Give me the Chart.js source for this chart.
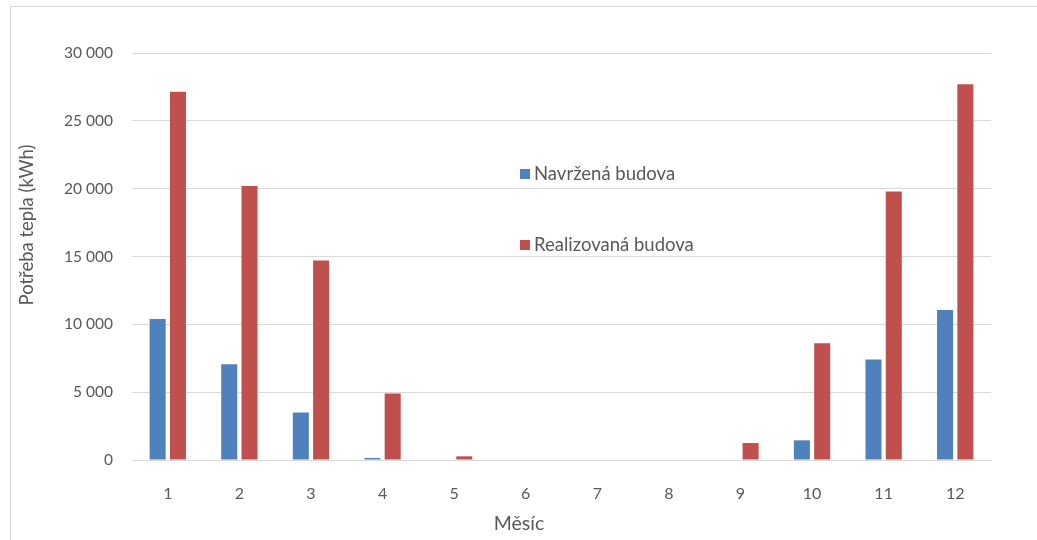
<!DOCTYPE html>
<html>
<head>
<meta charset="utf-8">
<script src="https://cdn.jsdelivr.net/npm/chart.js@4.4.1/dist/chart.umd.min.js"></script>
<style>
  html, body { margin: 0; padding: 0; background: #ffffff; }
  #wrap { position: relative; width: 1037px; height: 540px; }
</style>
</head>
<body>
<div id="wrap"><canvas id="c" width="1037" height="540"></canvas></div>
<script>
// Monthly heat demand (kWh)
const months = ['1', '2', '3', '4', '5', '6', '7', '8', '9', '10', '11', '12'];
const navrzenaBudova = [10400, 7050, 3500, 150, 0, 0, 0, 0, 0, 1450, 7400, 11050];
const realizovanaBudova = [27150, 20200, 14700, 4900, 270, 0, 0, 0, 1250, 8600, 19800, 27700];
const yTickValues = [0, 5000, 10000, 15000, 20000, 25000, 30000];

const seriesNames = ['Navržená budova', 'Realizovaná budova'];
const yTitle = 'Potřeba tepla (kWh)';
const xTitle = 'Měsíc';

const FONT = 'Lato, "Open Sans", sans-serif';
const TEXT = '#595959';
const GRID = '#d9d9d9';

function fmt(v) {
  return String(v).replace(/\B(?=(\d{3})+(?!\d))/g, ' ');
}

// outer frame of the chart object
const framePlugin = {
  id: 'frame',
  beforeDraw(chart) {
    const ctx = chart.ctx;
    ctx.save();
    ctx.strokeStyle = GRID;
    ctx.lineWidth = 1;
    ctx.strokeRect(10.5, 6.5, chart.width + 20, chart.height + 20);
    ctx.restore();
  }
};

// axis titles and the in-plot legend
const labelsPlugin = {
  id: 'labels',
  afterDraw(chart) {
    const ctx = chart.ctx;
    const area = chart.chartArea;
    ctx.save();
    ctx.fillStyle = TEXT;
    ctx.textAlign = 'center';
    ctx.textBaseline = 'middle';
    // y title
    ctx.font = '18.5px ' + FONT;
    ctx.save();
    ctx.translate(27, 225);
    ctx.rotate(-Math.PI / 2);
    ctx.fillText(yTitle, 0, 0);
    ctx.restore();
    // x title
    ctx.font = '19.5px ' + FONT;
    ctx.fillText(xTitle, 519, 524);

    // legend
    ctx.font = '18.5px ' + FONT;
    const items = chart.data.datasets;
    const legendX = area.left + 388;
    const legendY = [174, 245];
    ctx.textAlign = 'left';
    items.forEach((ds, i) => {
      ctx.fillStyle = ds.backgroundColor;
      ctx.fillRect(legendX, legendY[i] - 5, 10, 10);
      ctx.fillStyle = TEXT;
      ctx.fillText(ds.label, legendX + 14, legendY[i]);
    });
    ctx.restore();
  }
};

new Chart(document.getElementById('c'), {
  type: 'bar',
  data: {
    labels: months,
    datasets: [
      { label: seriesNames[0], data: navrzenaBudova, backgroundColor: '#4f81bd' },
      { label: seriesNames[1], data: realizovanaBudova, backgroundColor: '#c0504d' }
    ]
  },
  options: {
    responsive: false,
    animation: false,
    devicePixelRatio: 1,
    categoryPercentage: 0.567,
    barPercentage: 0.79,
    layout: { padding: { top: 53, right: 46, left: 0, bottom: 0 } },
    plugins: {
      legend: { display: false },
      tooltip: { enabled: false }
    },
    scales: {
      x: {
        grid: { display: false },
        border: { display: true, color: GRID, width: 1 },
        ticks: { color: TEXT, font: { family: FONT, size: 16 }, padding: 16 },
        afterFit(s) { s.height = 80; }
      },
      y: {
        min: 0,
        max: 30000,
        afterBuildTicks(s) { s.ticks = yTickValues.map(v => ({ value: v })); },
        grid: { color: GRID, lineWidth: 1, drawTicks: false },
        border: { display: false },
        ticks: {
          color: TEXT,
          font: { family: FONT, size: 15.5 },
          padding: 19,
          callback: v => fmt(v)
        },
        afterFit(s) { s.width = 132; }
      }
    }
  },
  plugins: [framePlugin, labelsPlugin]
});
</script>
</body>
</html>
